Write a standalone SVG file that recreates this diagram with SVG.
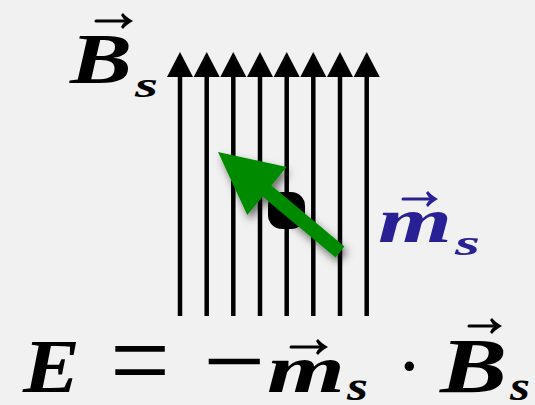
<svg xmlns="http://www.w3.org/2000/svg" width="535" height="405" viewBox="0 0 535 405">
  <defs>
    <style>
      .math { font-family: "Liberation Serif", "Times New Roman", serif; font-weight: bold; font-style: italic; fill: #000; }
      .op { font-family: "Liberation Serif", "Times New Roman", serif; font-weight: normal; fill: #000; }
      .blue { fill: #2a2096; }
      .field { stroke: #000; stroke-width: 4.5; fill: none; }
      .vec { stroke: #000; stroke-width: 3; fill: none; stroke-linecap: round; }
    </style>
    <filter id="shadow" x="-30%" y="-30%" width="160%" height="160%">
      <feDropShadow dx="3" dy="5" stdDeviation="4" flood-color="#000" flood-opacity="0.55"/>
    </filter>
  </defs>

  <rect width="535" height="405" fill="#f1f1f1"/>

  <!-- magnetic field lines -->
  <g id="field">
    <line class="field" x1="180" y1="316" x2="180" y2="77"/>
    <line class="field" x1="206.7" y1="316" x2="206.7" y2="77"/>
    <line class="field" x1="233.3" y1="316" x2="233.3" y2="77"/>
    <line class="field" x1="260" y1="316" x2="260" y2="77"/>
    <line class="field" x1="286.7" y1="316" x2="286.7" y2="77"/>
    <line class="field" x1="313.3" y1="316" x2="313.3" y2="77"/>
    <line class="field" x1="340" y1="316" x2="340" y2="77"/>
    <line class="field" x1="366.7" y1="316" x2="366.7" y2="77"/>
    <g fill="#000">
      <path d="M167,77 L180,52 L193,77 Z"/>
      <path d="M193.7,77 L206.7,52 L219.7,77 Z"/>
      <path d="M220.3,77 L233.3,52 L246.3,77 Z"/>
      <path d="M247,77 L260,52 L273,77 Z"/>
      <path d="M273.7,77 L286.7,52 L299.7,77 Z"/>
      <path d="M300.3,77 L313.3,52 L326.3,77 Z"/>
      <path d="M327,77 L340,52 L353,77 Z"/>
      <path d="M353.7,77 L366.7,52 L379.7,77 Z"/>
    </g>
  </g>

  <!-- dipole -->
  <g id="dipole">
    <rect x="268" y="192" width="37" height="37" rx="14" fill="#000"/>
    <path filter="url(#shadow)" fill="#008a00" d="M344.4,246.6 L271.4,185.6 L286.7,167 L218,152 L247.3,215 L262.6,196.4 L335.6,257.4 Z"/>
  </g>

  <!-- label B_s -->
  <g id="label-B">
    <text class="math" x="70" y="83" font-size="72" textLength="62" lengthAdjust="spacingAndGlyphs">B</text>
    <text class="math" x="135" y="97" font-size="36" textLength="23" lengthAdjust="spacingAndGlyphs">s</text>
    <path class="vec" d="M96,21 L129,21"/>
    <path d="M133,21 Q126,17 123,13 L121,15 Q123,19 126,21 Q123,23 121,27 L123,29 Q126,25 133,21 Z" fill="#000"/>
  </g>

  <!-- label m_s -->
  <g id="label-m">
    <text class="math blue" x="378" y="242" font-size="64" textLength="74" lengthAdjust="spacingAndGlyphs">m</text>
    <text class="math blue" x="455" y="255" font-size="36" textLength="25" lengthAdjust="spacingAndGlyphs">s</text>
    <path d="M403,199 L434,199" stroke="#2a2096" stroke-width="3" stroke-linecap="round"/>
    <path d="M438,199 Q431,195 428,191 L426,193 Q428,197 431,199 Q428,201 426,205 L428,207 Q431,203 438,199 Z" fill="#2a2096"/>
  </g>

  <!-- equation -->
  <g id="equation">
    <text class="math" x="23" y="392" font-size="76" textLength="57" lengthAdjust="spacingAndGlyphs">E</text>
    <text class="op" x="110" y="399" font-size="116" textLength="60" lengthAdjust="spacingAndGlyphs">=</text>
    <text class="op" x="203" y="398" font-size="110" textLength="62" lengthAdjust="spacingAndGlyphs">−</text>
    <text class="math" x="267" y="392" font-size="68" textLength="78" lengthAdjust="spacingAndGlyphs">m</text>
    <path class="vec" d="M291,347 L324,347"/>
    <path d="M328,347 Q321,343 318,339 L316,341 Q318,345 321,347 Q318,349 316,353 L318,355 Q321,351 328,347 Z" fill="#000"/>
    <text class="math" x="347" y="400" font-size="42" textLength="21" lengthAdjust="spacingAndGlyphs">s</text>
    <text class="op" x="396" y="393" font-size="80" font-weight="bold">·</text>
    <text class="math" x="440" y="392" font-size="78" textLength="67" lengthAdjust="spacingAndGlyphs">B</text>
    <path class="vec" d="M469,326 L498,326"/>
    <path d="M502,326 Q495,322 492,318 L490,320 Q492,324 495,326 Q492,328 490,332 L492,334 Q495,330 502,326 Z" fill="#000"/>
    <text class="math" x="510" y="400" font-size="42" textLength="20" lengthAdjust="spacingAndGlyphs">s</text>
  </g>
</svg>
